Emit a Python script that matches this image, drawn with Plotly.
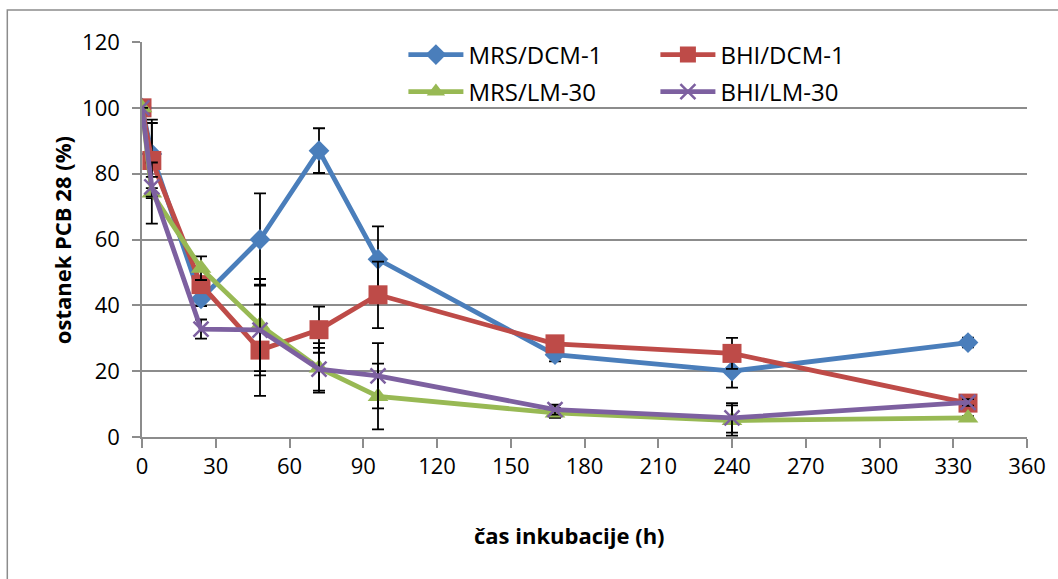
import plotly.graph_objects as go

# incubation time (h) and remaining PCB 28 (%) per culture / strain
hours = [0, 4, 24, 48, 72, 96, 168, 240, 336]

mrs_dcm = [100, 86, 42, 60, 87, 54, 25, 20, 28.7]
mrs_dcm_err = [0, 10.4, 2.2, 14, 6.8, 10, 2, 5, 1.5]

bhi_dcm = [100, 84, 46.3, 26.4, 32.6, 43.2, 28.3, 25.4, 10.3]
bhi_dcm_err = [0, 11.4, 2, 13.9, 7, 10.1, 1.5, 4.7, 1]

mrs_lm = [100, 74.1, 51.3, 34, 21, 12.3, 7.3, 5, 5.8]
mrs_lm_err = [0, 9.3, 3.6, 14, 7.5, 10, 1.5, 4.6, 0.5]

bhi_lm = [100, 76, 32.8, 32.5, 20.6, 18.6, 8.3, 5.8, 10.5]
bhi_lm_err = [0, 3, 2.9, 13.8, 6.5, 9.9, 1.5, 4.5, 1]

names = ["MRS/DCM-1", "BHI/DCM-1", "MRS/LM-30", "BHI/LM-30"]
colors = ["#4A7EBB", "#BE4B48", "#98B954", "#7D60A0"]

x_ticks = [0, 30, 60, 90, 120, 150, 180, 210, 240, 270, 300, 330, 360]
y_ticks = [0, 20, 40, 60, 80, 100, 120]

FONT = "Open Sans"
GRAY = "#8C8C8C"

series = [
    (mrs_dcm, mrs_dcm_err, dict(symbol="diamond", size=16), "legend"),
    (bhi_dcm, bhi_dcm_err, dict(symbol="square", size=19), "legend"),
    (mrs_lm, mrs_lm_err, dict(symbol="triangle-up", size=18), "legend2"),
    (bhi_lm, bhi_lm_err, dict(symbol="x-thin", size=15), "legend2"),
]

fig = go.Figure()
for (vals, errs, mk, leg), name, col in zip(series, names, colors):
    marker = dict(color=col, symbol=mk["symbol"], size=mk["size"])
    if mk["symbol"] == "x-thin":
        marker["line"] = dict(color=col, width=2.5)
    else:
        marker["line"] = dict(width=0)
    fig.add_trace(go.Scatter(
        x=hours, y=vals, name=name, mode="lines+markers",
        line=dict(color=col, width=4.8),
        marker=marker,
        error_y=dict(type="data", array=errs, visible=True,
                     color="black", thickness=1.8, width=6),
        legend=leg,
    ))

# chart border
pw, ph = 1029 - 142, 437 - 42
fig.add_shape(type="rect", xref="paper", yref="paper",
              x0=(7 - 142) / pw, x1=(1075 - 142) / pw,
              y0=(437 - 600) / ph, y1=(437 - 10) / ph,
              line=dict(color=GRAY, width=1.5), fillcolor="rgba(0,0,0,0)",
              layer="below")

fig.add_annotation(text="<b>čas inkubacije (h)</b>", xref="paper", yref="paper",
                   x=(570 - 142) / pw, y=(437 - 535) / ph,
                   xanchor="center", yanchor="middle", showarrow=False,
                   font=dict(family=FONT, size=22, color="black"))
fig.add_annotation(text="<b>ostanek PCB 28 (%)</b>", xref="paper", yref="paper",
                   x=(62 - 142) / pw, y=(437 - 240) / ph, textangle=-90,
                   xanchor="center", yanchor="middle", showarrow=False,
                   font=dict(family=FONT, size=22, color="black"))

legend_common = dict(orientation="h", entrywidth=182, entrywidthmode="pixels",
                     xanchor="left", yanchor="middle", bgcolor="rgba(0,0,0,0)",
                     font=dict(family=FONT, size=24, color="black"),
                     itemwidth=55, tracegroupgap=0, itemclick=False)

fig.update_layout(
    width=1058, height=579,
    margin=dict(l=142, r=29, t=42, b=142),
    paper_bgcolor="white", plot_bgcolor="white",
    font=dict(family=FONT, size=22, color="black"),
    legend=dict(x=(404 - 142) / pw, y=(437 - 55) / ph, **legend_common),
    legend2=dict(x=(404 - 142) / pw, y=(437 - 92) / ph, **legend_common),
    xaxis=dict(range=[0, 360], tickvals=x_ticks, ticks="outside", ticklen=9,
               tickwidth=1.5, tickcolor=GRAY, showline=True, linecolor=GRAY,
               linewidth=1.5, showgrid=False, zeroline=False,
               tickfont=dict(family=FONT, size=22, color="black")),
    yaxis=dict(range=[0, 120], tickvals=y_ticks, ticks="outside", ticklen=8,
               tickwidth=1.5, tickcolor=GRAY, showline=True, linecolor=GRAY,
               linewidth=1.5, showgrid=True, gridcolor=GRAY, gridwidth=1.5,
               zeroline=False, ticklabelstandoff=8,
               tickfont=dict(family=FONT, size=22, color="black")),
)

fig.write_html("out.html")
